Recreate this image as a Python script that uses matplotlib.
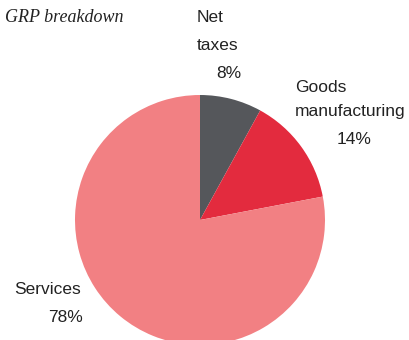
import matplotlib
matplotlib.use("Agg")
import matplotlib.pyplot as plt
from matplotlib import font_manager

labels = ["Net taxes", "Goods manufacturing", "Services"]
shares = [8, 14, 78]
colors = ["#55575b", "#e32b3e", "#f28083"]
title = "GRP breakdown"

names = {f.name for f in font_manager.fontManager.ttflist}
cond = "Liberation Sans Narrow" if "Liberation Sans Narrow" in names else "Liberation Sans"

W, H = 410, 340
fig = plt.figure(figsize=(W / 100, H / 100), dpi=100)
ax = fig.add_axes([0, 0, 1, 1])

ax.pie(shares, colors=colors, startangle=90, counterclock=False,
       center=(200, H - 220), radius=125, frame=True,
       wedgeprops=dict(linewidth=0))
ax.set_xlim(0, W)
ax.set_ylim(0, H)
ax.set_aspect("equal")
ax.axis("off")

def t(x, y, s, ha="left", **kw):
    fig.text(x / W, 1 - y / H, s, ha=ha, va="center", fontsize=12.5,
             family=cond, color="#222222", **kw)

fig.text(5 / W, 1 - 18 / H, title, ha="left", va="center", fontsize=13,
         family="Liberation Serif", style="italic", color="#222222")

t(197, 18, "Net")
t(197, 45, "taxes")
t(229, 73, f"{shares[0]}%", ha="center")
t(295, 87, "Goods")
t(295, 112, "manufacturing")
t(354, 139, f"{shares[1]}%", ha="center")
t(81, 290, "Services", ha="right")
t(83, 318, f"{shares[2]}%", ha="right")

fig.savefig("out.png", dpi=100)
